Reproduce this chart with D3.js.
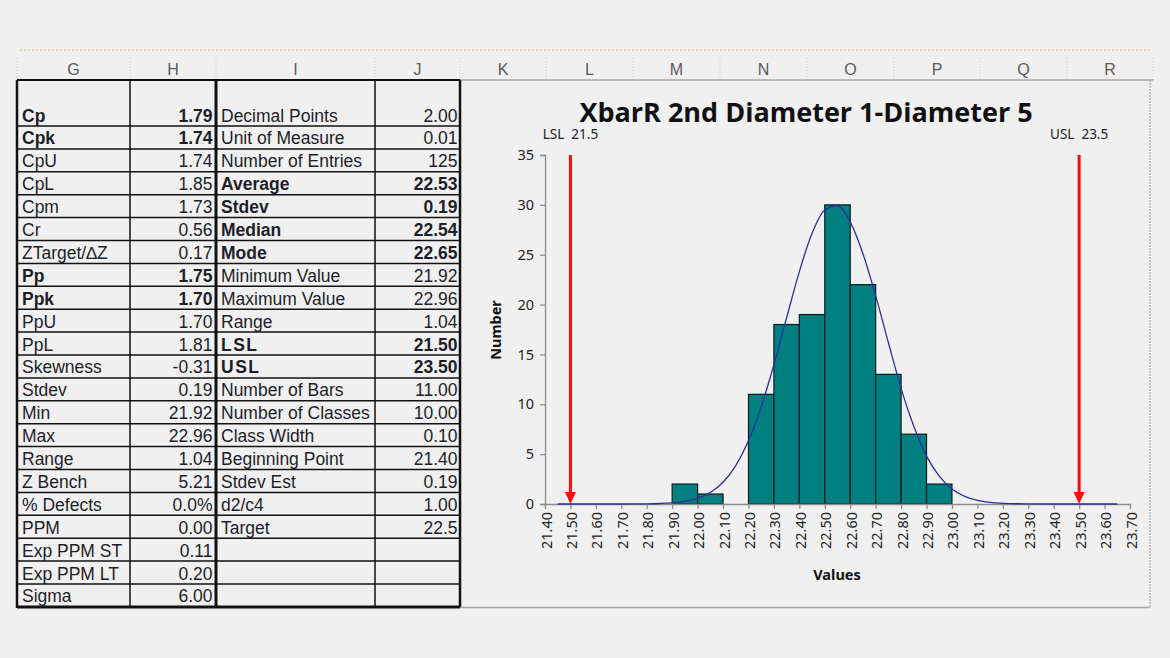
<!DOCTYPE html>
<html>
<head>
<meta charset="utf-8">
<script src="https://cdn.jsdelivr.net/npm/d3@7"></script>
<style>
  html, body { margin: 0; padding: 0; background: #f0f0f0; }
  svg { display: block; }
</style>
</head>
<body>
<div id="chart"></div>
<script>
// ---- data ----
const columnLetters = ["G", "H", "I", "J", "K", "L", "M", "N", "O", "P", "Q", "R"];

const statLabels = ["Cp", "Cpk", "CpU", "CpL", "Cpm", "Cr", "ZTarget/\u2206Z", "Pp", "Ppk", "PpU", "PpL",
  "Skewness", "Stdev", "Min", "Max", "Range", "Z Bench", "% Defects", "PPM", "Exp PPM ST", "Exp PPM LT", "Sigma"];
const statValues = ["1.79", "1.74", "1.74", "1.85", "1.73", "0.56", "0.17", "1.75", "1.70", "1.70", "1.81",
  "-0.31", "0.19", "21.92", "22.96", "1.04", "5.21", "0.0%", "0.00", "0.11", "0.20", "6.00"];

const infoLabels = ["Decimal Points", "Unit of Measure", "Number of Entries", "Average", "Stdev", "Median", "Mode",
  "Minimum Value", "Maximum Value", "Range", "LSL", "USL", "Number of Bars", "Number of Classes", "Class Width",
  "Beginning Point", "Stdev Est", "d2/c4", "Target"];
const infoValues = ["2.00", "0.01", "125", "22.53", "0.19", "22.54", "22.65", "21.92", "22.96", "1.04", "21.50",
  "23.50", "11.00", "10.00", "0.10", "21.40", "0.19", "1.00", "22.5"];

const chartTitle = "XbarR 2nd Diameter 1-Diameter 5";
const binStarts = [21.9, 22.0, 22.1, 22.2, 22.3, 22.4, 22.5, 22.6, 22.7, 22.8, 22.9];
const binCounts = [2, 1, 0, 11, 18, 19, 30, 22, 13, 7, 2];
const binWidth = 0.1;
const lsl = 21.5, usl = 23.5;
const xTicks = d3.range(0, 24).map(i => +(21.4 + i * 0.1).toFixed(2));
const yTicks = [0, 5, 10, 15, 20, 25, 30, 35];

// normal curve
const curveX = [21.45, 21.6, 21.7, 21.8, 21.85, 21.9, 21.95, 22.0, 22.05, 22.1, 22.15, 22.2, 22.25, 22.3, 22.35,
  22.4, 22.45, 22.5, 22.55, 22.6, 22.65, 22.7, 22.75, 22.8, 22.85, 22.9, 22.95, 23.0, 23.05, 23.1, 23.15,
  23.2, 23.3, 23.4, 23.5, 23.65];
const curveY = [0, 0, 0, 0.02, 0.05, 0.11, 0.26, 0.57, 1.16, 2.18, 3.85, 6.34, 9.74, 13.96, 18.68,
  23.31, 27.15, 29.49, 29.91, 28.29, 25.1, 20.9, 16.2, 11.6, 7.8, 4.8, 2.8, 1.5, 0.76, 0.36, 0.16,
  0.07, 0.01, 0, 0, 0];

// ---- layout ----
const W = 1170, H = 658;
const textColor = "#1e1e28";
const boldStats = new Set(["Cp", "Cpk", "Pp", "Ppk"]);
const boldInfo = new Set(["Average", "Stdev", "Median", "Mode", "LSL", "USL"]);

const svg = d3.select("#chart").append("svg")
  .attr("width", W).attr("height", H)
  .attr("viewBox", `0 0 ${W} ${H}`);

svg.append("rect").attr("width", W).attr("height", H).attr("fill", "#f0f0f0");

// faint dotted strip at the top
svg.append("line")
  .attr("x1", 20).attr("x2", 1150).attr("y1", 50).attr("y2", 50)
  .attr("stroke", "#e3d6c0").attr("stroke-width", 2).attr("stroke-dasharray", "2,2");

// column header
const colEdges = [17, 130, 216, 375, 460, 546, 633, 720, 807, 894, 980, 1067, 1153];
const header = svg.append("g");
columnLetters.forEach((c, i) => {
  header.append("text")
    .attr("x", (colEdges[i] + colEdges[i + 1]) / 2).attr("y", 75)
    .attr("text-anchor", "middle")
    .attr("font-family", "Liberation Sans, Arial, sans-serif")
    .attr("font-size", 16).attr("fill", "#5a5a5a")
    .text(c);
});
colEdges.forEach(x => {
  header.append("line")
    .attr("x1", x).attr("x2", x).attr("y1", 58).attr("y2", 80)
    .attr("stroke", "#c8c8c8").attr("stroke-width", 1).attr("stroke-dasharray", "1,2");
});
header.append("line")
  .attr("x1", 17).attr("x2", 1153).attr("y1", 80).attr("y2", 80)
  .attr("stroke", "#a8a8a8").attr("stroke-width", 1.5);

// ---- table ----
const rowH = 22.9;
const firstRowBottom = 126;
const rowBottom = i => firstRowBottom + i * rowH;
const tbl = svg.append("g").attr("font-family", "Liberation Sans, Arial, sans-serif")
  .attr("font-size", 17.5).attr("fill", textColor);

// horizontal lines
for (let i = 0; i < statLabels.length; i++) {
  tbl.append("line")
    .attr("x1", 17).attr("x2", 460).attr("y1", rowBottom(i)).attr("y2", rowBottom(i))
    .attr("stroke", "#111").attr("stroke-width", i === statLabels.length - 1 ? 3 : 1.5);
}
tbl.append("line").attr("x1", 17).attr("x2", 460).attr("y1", 80).attr("y2", 80)
  .attr("stroke", "#111").attr("stroke-width", 2);

// vertical lines
const tableBottom = rowBottom(statLabels.length - 1);
[[17, 2.5], [130, 1.5], [216, 3], [375, 1.5], [460, 2.5]].forEach(([x, w]) => {
  tbl.append("line").attr("x1", x).attr("x2", x).attr("y1", 80).attr("y2", tableBottom + 1)
    .attr("stroke", "#111").attr("stroke-width", w);
});

statLabels.forEach((lab, i) => {
  const y = rowBottom(i) - 4.5;
  const bold = boldStats.has(lab);
  tbl.append("text").attr("x", 22).attr("y", y)
    .attr("font-weight", bold ? "bold" : "normal").text(lab);
  tbl.append("text").attr("x", 212.5).attr("y", y).attr("text-anchor", "end")
    .attr("font-weight", bold ? "bold" : "normal").text(statValues[i]);
});

infoLabels.forEach((lab, i) => {
  const y = rowBottom(i) - 4.5;
  const bold = boldInfo.has(lab);
  tbl.append("text").attr("x", 221).attr("y", y)
    .attr("font-weight", bold ? "bold" : "normal")
    .attr("letter-spacing", (lab === "LSL" || lab === "USL") ? 1.5 : 0)
    .text(lab);
  tbl.append("text").attr("x", 457.5).attr("y", y).attr("text-anchor", "end")
    .attr("font-weight", bold ? "bold" : "normal").text(infoValues[i]);
});

// ---- chart box ----
svg.append("line").attr("x1", 1150).attr("x2", 1150).attr("y1", 80).attr("y2", 607)
  .attr("stroke", "#9a9a9a").attr("stroke-width", 1).attr("stroke-dasharray", "2,1");
svg.append("line").attr("x1", 460).attr("x2", 1150).attr("y1", 607.5).attr("y2", 607.5)
  .attr("stroke", "#a8a8a8").attr("stroke-width", 1.5);

const x = d3.scaleLinear().domain([21.4, 23.7]).range([545, 1130]);
const y = d3.scaleLinear().domain([0, 35]).range([504, 155]);

const chartFont = "Noto Sans, Open Sans, sans-serif";
const plot = svg.append("g");

// title
const title = plot.append("text")
  .attr("x", 806).attr("y", 122).attr("text-anchor", "middle")
  .attr("font-family", "Open Sans, Noto Sans, sans-serif")
  .attr("font-weight", "bold").attr("font-size", 27).attr("fill", "#111")
  .text(chartTitle);
const tl = title.node().getComputedTextLength();
if (tl > 456) title.attr("textLength", 454).attr("lengthAdjust", "spacingAndGlyphs");

// bars
plot.selectAll("rect.bar").data(binStarts.map((s, i) => ({ s, c: binCounts[i] })).filter(d => d.c > 0))
  .join("rect").attr("class", "bar")
  .attr("x", d => x(d.s)).attr("width", d => x(d.s + binWidth) - x(d.s))
  .attr("y", d => y(d.c)).attr("height", d => y(0) - y(d.c))
  .attr("fill", "#008080").attr("stroke", "#0d1a1a").attr("stroke-width", 1.2);

// axes
const yAxis = d3.axisLeft(y).tickValues(yTicks).tickSize(5).tickPadding(6).tickFormat(d3.format("d"));
const gy = plot.append("g").attr("transform", `translate(${x(21.4)},0)`).call(yAxis);
const xAxis = d3.axisBottom(x).tickValues(xTicks).tickSize(5).tickPadding(4).tickFormat(d3.format(".2f"));
const gx = plot.append("g").attr("transform", `translate(0,${y(0)})`).call(xAxis);

[gx, gy].forEach(g => {
  g.select(".domain").attr("stroke", "#8c8c8c").attr("stroke-width", 1.3);
  g.selectAll(".tick line").attr("stroke", "#8c8c8c").attr("stroke-width", 1.2);
  g.selectAll(".tick text").attr("font-family", chartFont).attr("font-size", 14.5).attr("fill", "#222");
});
gx.selectAll(".tick text")
  .attr("text-anchor", "end").attr("dy", null).attr("dominant-baseline", "central")
  .attr("transform", "translate(0,8) rotate(-90)").attr("x", 0).attr("y", 0);

// axis titles
plot.append("text").attr("x", 837).attr("y", 580).attr("text-anchor", "middle")
  .attr("font-family", chartFont).attr("font-weight", "bold").attr("font-size", 14.5)
  .attr("fill", "#111").text("Values");
plot.append("text").attr("transform", "translate(501,330) rotate(-90)").attr("text-anchor", "middle")
  .attr("font-family", chartFont).attr("font-weight", "bold").attr("font-size", 14.5)
  .attr("fill", "#111").text("Number");

// normal curve
const line = d3.line().x((d, i) => x(curveX[i])).y(d => y(d)).curve(d3.curveMonotoneX);
plot.append("path").attr("d", line(curveY))
  .attr("fill", "none").attr("stroke", "#2e2e9e").attr("stroke-width", 1.3);

// spec limits
[["LSL", lsl], ["USL", usl]].forEach(([name, v]) => {
  const xv = x(v);
  plot.append("line").attr("x1", xv).attr("x2", xv).attr("y1", y(35)).attr("y2", y(0) - 10)
    .attr("stroke", "#ff0a0a").attr("stroke-width", 3);
  plot.append("path")
    .attr("d", `M${xv - 5.5},${y(0) - 12} L${xv + 5.5},${y(0) - 12} L${xv},${y(0)} Z`)
    .attr("fill", "#ff0a0a");
  plot.append("text").attr("x", xv).attr("y", 139).attr("text-anchor", "middle")
    .attr("font-family", chartFont).attr("font-size", 13.5).attr("fill", "#222")
    .attr("xml:space", "preserve")
    .text(`${name}  ${v.toFixed(1)}`);
});
</script>
</body>
</html>
